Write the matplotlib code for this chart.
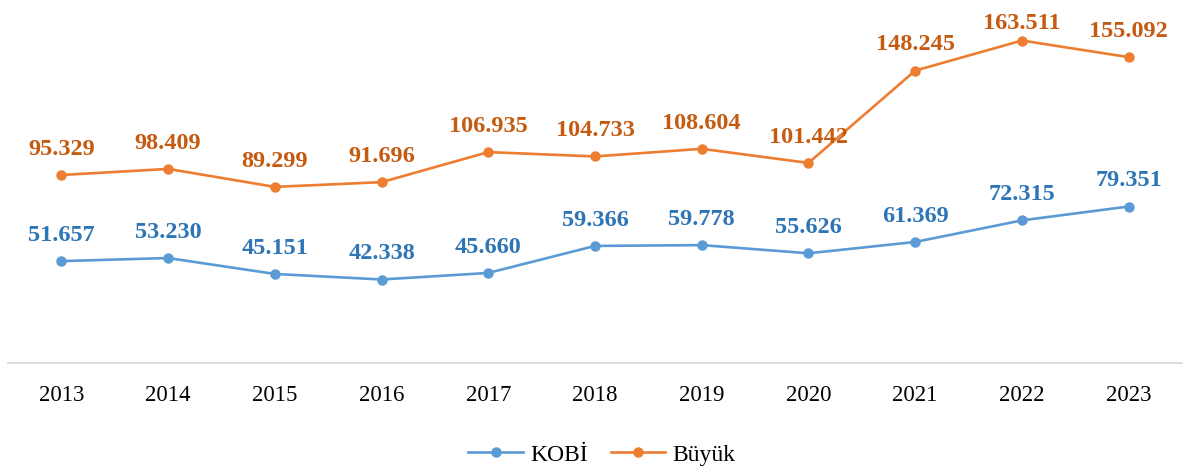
import matplotlib
matplotlib.use("Agg")
import matplotlib.pyplot as plt

years = ["2013", "2014", "2015", "2016", "2017", "2018", "2019", "2020", "2021", "2022", "2023"]
kobi = [51.657, 53.230, 45.151, 42.338, 45.660, 59.366, 59.778, 55.626, 61.369, 72.315, 79.351]
buyuk = [95.329, 98.409, 89.299, 91.696, 106.935, 104.733, 108.604, 101.442, 148.245, 163.511, 155.092]

plt.rcParams['font.family'] = ['Liberation Serif', 'DejaVu Serif']

fig = plt.figure(figsize=(11.84, 4.68), dpi=100)
ax = fig.add_axes([8/1184, 105/468, 1174/1184, 355/468])

x = list(range(len(years)))
c_blue, c_orange = "#5B9BD5", "#ED7D31"
ax.plot(x, kobi, color=c_blue, lw=1.9, marker="o", ms=6.5, label="KOBİ")
ax.plot(x, buyuk, color=c_orange, lw=1.9, marker="o", ms=6.5, label="Büyük")

def fmt(v):
    return f"{v:.3f}"

ymax = 180
for series, col in ((kobi, "#2E75B6"), (buyuk, "#C55A11")):
    for xi, v in zip(x, series):
        off = 11 if v < 160 else 5
        ax.annotate(fmt(v), (xi, v), xytext=(0, off), textcoords="offset points",
                    ha="center", va="bottom", fontsize=17.5, fontweight="bold", color=col)

ax.set_xlim(-0.5, len(years) - 0.5)
ax.set_ylim(0, ymax)
ax.set_xticks(x)
ax.set_xticklabels(years, fontsize=16.5)
ax.set_yticks([])
ax.tick_params(axis="x", length=0, pad=16)
for s in ["top", "right", "left"]:
    ax.spines[s].set_visible(False)
ax.spines["bottom"].set_color("#D9D9D9")
ax.spines["bottom"].set_linewidth(1.3)

fig.legend(loc="center", bbox_to_anchor=(602/1184, 1 - 455/468), ncol=2, frameon=False,
           fontsize=17, handlelength=2.3, columnspacing=1.0, handletextpad=0.3)

fig.savefig("out.png", dpi=100)
